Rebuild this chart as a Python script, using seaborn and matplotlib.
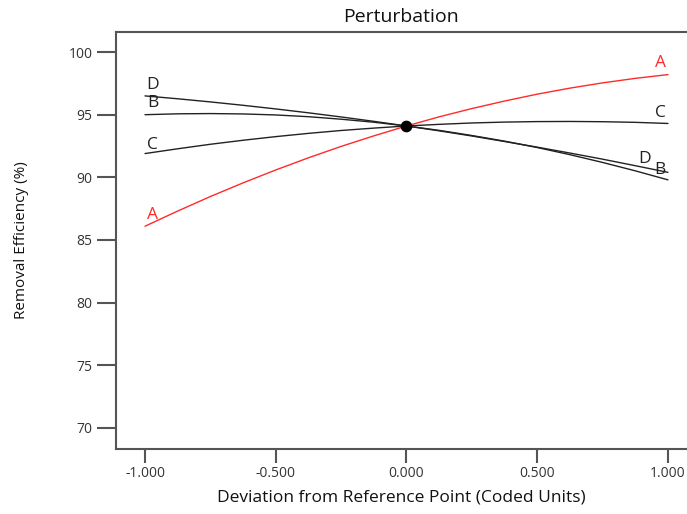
import numpy as np
import pandas as pd
import matplotlib
matplotlib.use("Agg")
import matplotlib.pyplot as plt
import seaborn as sns

# deviation from reference point (coded units)
dev = [-1.0, -0.875, -0.75, -0.625, -0.5, -0.375, -0.25, -0.125, 0.0,
       0.125, 0.25, 0.375, 0.5, 0.625, 0.75, 0.875, 1.0]

# removal efficiency (%)
eff_A = [86.10, 87.31, 88.47, 89.56, 90.59, 91.56, 92.47, 93.31, 94.10,
         94.83, 95.49, 96.09, 96.64, 97.12, 97.54, 97.90, 98.20]
eff_B = [95.00, 95.07, 95.09, 95.06, 94.98, 94.84, 94.64, 94.40, 94.10,
         93.75, 93.34, 92.89, 92.38, 91.81, 91.19, 90.52, 89.80]
eff_C = [91.90, 92.28, 92.64, 92.96, 93.25, 93.51, 93.74, 93.93, 94.10,
         94.23, 94.34, 94.41, 94.45, 94.46, 94.44, 94.39, 94.30]
eff_D = [96.50, 96.27, 96.02, 95.75, 95.46, 95.15, 94.82, 94.47, 94.10,
         93.71, 93.30, 92.86, 92.41, 91.94, 91.45, 90.93, 90.40]

ref_x = [0.0]
ref_y = [94.1]

factors = ["A", "B", "C", "D"]
colors = {"A": "#ff2a2a", "B": "#222222", "C": "#222222", "D": "#222222"}

df = pd.DataFrame({
    "dev": dev * 4,
    "eff": eff_A + eff_B + eff_C + eff_D,
    "factor": np.repeat(factors, len(dev)),
})

sns.set_style("white")
plt.rcParams["font.family"] = ["Open Sans", "DejaVu Sans"]

fig = plt.figure(figsize=(6.87, 5.14), dpi=100)
ax = fig.add_axes([116 / 687, 1 - 449 / 514, (686 - 116) / 687, (449 - 32) / 514])

sns.lineplot(data=df, x="dev", y="eff", hue="factor", palette=colors,
             linewidth=1.0, legend=False, ax=ax, sort=False)
ax.scatter(ref_x, ref_y, s=55, color="black", zorder=5)

# curve letters at both ends
series = {"A": eff_A, "B": eff_B, "C": eff_C, "D": eff_D}
left_dy = {"A": 0.9, "B": 0.9, "C": 0.65, "D": 0.9}
right_dx = {"A": -0.03, "B": -0.03, "C": -0.03, "D": -0.09}
right_dy = {"A": 0.9, "B": 0.75, "C": 0.8, "D": 1.1}
for f in factors:
    ys = series[f]
    ax.text(dev[0] + 0.03, ys[0] + left_dy[f], f, color=colors[f],
            fontsize=12.5, ha="center", va="center")
    ax.text(dev[-1] + right_dx[f], ys[-1] + right_dy[f], f, color=colors[f],
            fontsize=12.5, ha="center", va="center")

ax.set_xlim(-1.111, 1.069)
ax.set_ylim(68.32, 101.6)
ax.set_xticks([-1.0, -0.5, 0.0, 0.5, 1.0])
ax.set_xticklabels(["-1.000", "-0.500", "0.000", "0.500", "1.000"])
ax.set_yticks([70, 75, 80, 85, 90, 95, 100])

ax.spines["right"].set_visible(False)
for s in ["left", "top", "bottom"]:
    ax.spines[s].set_color("#555555")
    ax.spines[s].set_linewidth(1.5)
ax.tick_params(axis="y", direction="out", length=14, width=1.5, color="#555555",
               labelsize=10, labelcolor="#333333", pad=3, left=True)
ax.tick_params(axis="x", direction="out", length=10, width=1.5, color="#555555",
               labelsize=10, labelcolor="#333333", pad=2, bottom=True)

ax.set_title("Perturbation", fontsize=14, pad=7, color="#111111")
ax.set_xlabel("Deviation from Reference Point (Coded Units)", fontsize=12.5,
              labelpad=6, color="#111111")
ax.set_ylabel("Removal Efficiency (%)", fontsize=11, labelpad=28, color="#111111")

fig.savefig("out.png", dpi=100)
